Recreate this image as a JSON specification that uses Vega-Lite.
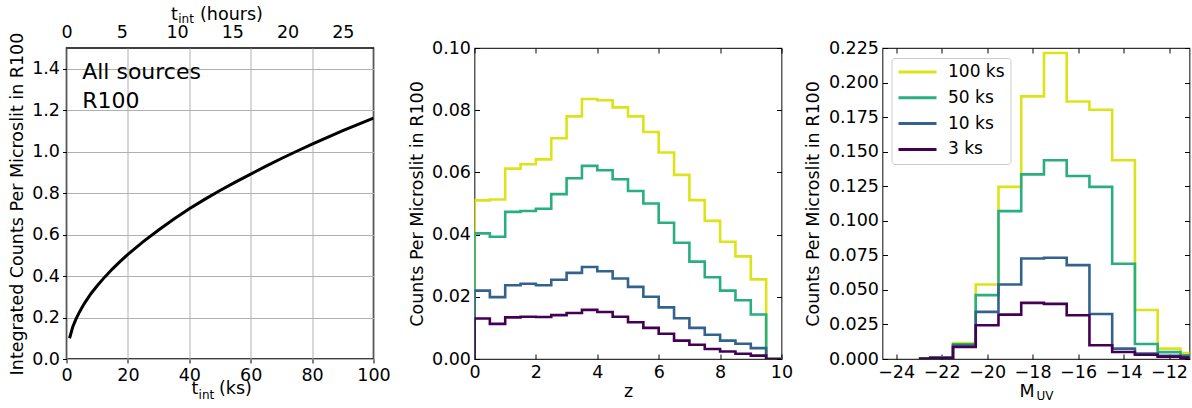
{
  "$schema": "https://vega.github.io/schema/vega-lite/v6.json",
  "padding": {"left": 7.5, "top": 4, "right": 0, "bottom": 0},
  "background": "white",
  "bounds": "flush",
  "spacing": 101,
  "config": {
    "font": "DejaVu Sans",
    "axis": {"labelFont": "DejaVu Sans", "titleFont": "DejaVu Sans", "labelFontSize": 17.5, "titleFontSize": 17.5, "labelColor": "black", "titleColor": "black", "titleFontWeight": "normal", "tickColor": "black", "tickWidth": 1, "domain": false, "grid": false, "labelFlush": false, "labelOverlap": false, "gridColor": "#b0b0b0", "gridOpacity": 1, "gridWidth": 1},
    "legend": {"labelFont": "DejaVu Sans"},
    "text": {"font": "DejaVu Sans"}
  },
  "datasets": {
    "curve": [
      {"t": 1, "c": 0.100}, {"t": 2, "c": 0.153}, {"t": 3, "c": 0.190}, {"t": 4, "c": 0.220}, {"t": 5, "c": 0.247},
      {"t": 6, "c": 0.272}, {"t": 8, "c": 0.316}, {"t": 10, "c": 0.353}, {"t": 12.5, "c": 0.396}, {"t": 15, "c": 0.435},
      {"t": 17.5, "c": 0.471}, {"t": 20, "c": 0.505}, {"t": 25, "c": 0.566}, {"t": 30, "c": 0.622}, {"t": 35, "c": 0.675},
      {"t": 40, "c": 0.725}, {"t": 45, "c": 0.770}, {"t": 50, "c": 0.813}, {"t": 55, "c": 0.853}, {"t": 60, "c": 0.892},
      {"t": 65, "c": 0.930}, {"t": 70, "c": 0.967}, {"t": 75, "c": 1.002}, {"t": 80, "c": 1.036}, {"t": 85, "c": 1.069},
      {"t": 90, "c": 1.101}, {"t": 95, "c": 1.132}, {"t": 100, "c": 1.162}
    ],
    "notes": [
      {"t": 5.1, "c": 1.352, "label": "All sources"},
      {"t": 5.1, "c": 1.212, "label": "R100"}
    ],
    "zhist": [
      {"s": "100 ks", "k": 0, "z": 0, "n": 0}, {"s": "100 ks", "k": 1, "z": 0, "n": 0.0510}, {"s": "100 ks", "k": 2, "z": 0.5, "n": 0.0513}, {"s": "100 ks", "k": 3, "z": 1, "n": 0.0612}, {"s": "100 ks", "k": 4, "z": 1.5, "n": 0.0626}, {"s": "100 ks", "k": 5, "z": 2, "n": 0.0642}, {"s": "100 ks", "k": 6, "z": 2.5, "n": 0.0710}, {"s": "100 ks", "k": 7, "z": 3, "n": 0.0780}, {"s": "100 ks", "k": 8, "z": 3.5, "n": 0.0836}, {"s": "100 ks", "k": 9, "z": 4, "n": 0.0832}, {"s": "100 ks", "k": 10, "z": 4.5, "n": 0.0809}, {"s": "100 ks", "k": 11, "z": 5, "n": 0.0780}, {"s": "100 ks", "k": 12, "z": 5.5, "n": 0.0730}, {"s": "100 ks", "k": 13, "z": 6, "n": 0.0664}, {"s": "100 ks", "k": 14, "z": 6.5, "n": 0.0592}, {"s": "100 ks", "k": 15, "z": 7, "n": 0.0511}, {"s": "100 ks", "k": 16, "z": 7.5, "n": 0.0444}, {"s": "100 ks", "k": 17, "z": 8, "n": 0.0377}, {"s": "100 ks", "k": 18, "z": 8.5, "n": 0.0330}, {"s": "100 ks", "k": 19, "z": 9, "n": 0.0256}, {"s": "100 ks", "k": 20, "z": 9.5, "n": 0}, {"s": "100 ks", "k": 21, "z": 10, "n": 0},
      {"s": "50 ks", "k": 0, "z": 0, "n": 0}, {"s": "50 ks", "k": 1, "z": 0, "n": 0.0404}, {"s": "50 ks", "k": 2, "z": 0.5, "n": 0.0393}, {"s": "50 ks", "k": 3, "z": 1, "n": 0.0473}, {"s": "50 ks", "k": 4, "z": 1.5, "n": 0.0476}, {"s": "50 ks", "k": 5, "z": 2, "n": 0.0483}, {"s": "50 ks", "k": 6, "z": 2.5, "n": 0.0530}, {"s": "50 ks", "k": 7, "z": 3, "n": 0.0581}, {"s": "50 ks", "k": 8, "z": 3.5, "n": 0.0621}, {"s": "50 ks", "k": 9, "z": 4, "n": 0.0607}, {"s": "50 ks", "k": 10, "z": 4.5, "n": 0.0578}, {"s": "50 ks", "k": 11, "z": 5, "n": 0.0540}, {"s": "50 ks", "k": 12, "z": 5.5, "n": 0.0500}, {"s": "50 ks", "k": 13, "z": 6, "n": 0.0438}, {"s": "50 ks", "k": 14, "z": 6.5, "n": 0.0374}, {"s": "50 ks", "k": 15, "z": 7, "n": 0.0313}, {"s": "50 ks", "k": 16, "z": 7.5, "n": 0.0263}, {"s": "50 ks", "k": 17, "z": 8, "n": 0.0220}, {"s": "50 ks", "k": 18, "z": 8.5, "n": 0.0189}, {"s": "50 ks", "k": 19, "z": 9, "n": 0.0143}, {"s": "50 ks", "k": 20, "z": 9.5, "n": 0}, {"s": "50 ks", "k": 21, "z": 10, "n": 0},
      {"s": "10 ks", "k": 0, "z": 0, "n": 0}, {"s": "10 ks", "k": 1, "z": 0, "n": 0.0220}, {"s": "10 ks", "k": 2, "z": 0.5, "n": 0.0199}, {"s": "10 ks", "k": 3, "z": 1, "n": 0.0237}, {"s": "10 ks", "k": 4, "z": 1.5, "n": 0.0242}, {"s": "10 ks", "k": 5, "z": 2, "n": 0.0237}, {"s": "10 ks", "k": 6, "z": 2.5, "n": 0.0255}, {"s": "10 ks", "k": 7, "z": 3, "n": 0.0277}, {"s": "10 ks", "k": 8, "z": 3.5, "n": 0.0296}, {"s": "10 ks", "k": 9, "z": 4, "n": 0.0282}, {"s": "10 ks", "k": 10, "z": 4.5, "n": 0.0259}, {"s": "10 ks", "k": 11, "z": 5, "n": 0.0232}, {"s": "10 ks", "k": 12, "z": 5.5, "n": 0.0200}, {"s": "10 ks", "k": 13, "z": 6, "n": 0.0166}, {"s": "10 ks", "k": 14, "z": 6.5, "n": 0.0131}, {"s": "10 ks", "k": 15, "z": 7, "n": 0.0100}, {"s": "10 ks", "k": 16, "z": 7.5, "n": 0.0078}, {"s": "10 ks", "k": 17, "z": 8, "n": 0.0059}, {"s": "10 ks", "k": 18, "z": 8.5, "n": 0.0049}, {"s": "10 ks", "k": 19, "z": 9, "n": 0.0035}, {"s": "10 ks", "k": 20, "z": 9.5, "n": 0}, {"s": "10 ks", "k": 21, "z": 10, "n": 0},
      {"s": "3 ks", "k": 0, "z": 0, "n": 0}, {"s": "3 ks", "k": 1, "z": 0, "n": 0.0130}, {"s": "3 ks", "k": 2, "z": 0.5, "n": 0.0113}, {"s": "3 ks", "k": 3, "z": 1, "n": 0.0134}, {"s": "3 ks", "k": 4, "z": 1.5, "n": 0.0136}, {"s": "3 ks", "k": 5, "z": 2, "n": 0.0135}, {"s": "3 ks", "k": 6, "z": 2.5, "n": 0.0141}, {"s": "3 ks", "k": 7, "z": 3, "n": 0.0148}, {"s": "3 ks", "k": 8, "z": 3.5, "n": 0.0158}, {"s": "3 ks", "k": 9, "z": 4, "n": 0.0151}, {"s": "3 ks", "k": 10, "z": 4.5, "n": 0.0136}, {"s": "3 ks", "k": 11, "z": 5, "n": 0.0118}, {"s": "3 ks", "k": 12, "z": 5.5, "n": 0.0100}, {"s": "3 ks", "k": 13, "z": 6, "n": 0.0081}, {"s": "3 ks", "k": 14, "z": 6.5, "n": 0.0059}, {"s": "3 ks", "k": 15, "z": 7, "n": 0.0046}, {"s": "3 ks", "k": 16, "z": 7.5, "n": 0.0032}, {"s": "3 ks", "k": 17, "z": 8, "n": 0.0024}, {"s": "3 ks", "k": 18, "z": 8.5, "n": 0.0017}, {"s": "3 ks", "k": 19, "z": 9, "n": 0.0011}, {"s": "3 ks", "k": 20, "z": 9.5, "n": 0}, {"s": "3 ks", "k": 21, "z": 10, "n": 0}
    ],
    "muv": [
      {"s": "100 ks", "m": -23, "n": 0.0004}, {"s": "100 ks", "m": -22, "n": 0.0012}, {"s": "100 ks", "m": -21, "n": 0.0116}, {"s": "100 ks", "m": -20, "n": 0.0539}, {"s": "100 ks", "m": -19, "n": 0.1245}, {"s": "100 ks", "m": -18, "n": 0.1900}, {"s": "100 ks", "m": -17, "n": 0.2214}, {"s": "100 ks", "m": -16, "n": 0.1863}, {"s": "100 ks", "m": -15, "n": 0.1803}, {"s": "100 ks", "m": -14, "n": 0.1438}, {"s": "100 ks", "m": -13, "n": 0.0355}, {"s": "100 ks", "m": -12, "n": 0.0075}, {"s": "100 ks", "m": -11, "n": 0.0043}, {"s": "100 ks", "m": -10, "n": 0.0020},
      {"s": "50 ks", "m": -23, "n": 0.0003}, {"s": "50 ks", "m": -22, "n": 0.0010}, {"s": "50 ks", "m": -21, "n": 0.0107}, {"s": "50 ks", "m": -20, "n": 0.0462}, {"s": "50 ks", "m": -19, "n": 0.1070}, {"s": "50 ks", "m": -18, "n": 0.1336}, {"s": "50 ks", "m": -17, "n": 0.1438}, {"s": "50 ks", "m": -16, "n": 0.1324}, {"s": "50 ks", "m": -15, "n": 0.1245}, {"s": "50 ks", "m": -14, "n": 0.0689}, {"s": "50 ks", "m": -13, "n": 0.0109}, {"s": "50 ks", "m": -12, "n": 0.0050}, {"s": "50 ks", "m": -11, "n": 0.0027}, {"s": "50 ks", "m": -10, "n": 0.0015},
      {"s": "10 ks", "m": -23, "n": 0.0003}, {"s": "10 ks", "m": -22, "n": 0.0009}, {"s": "10 ks", "m": -21, "n": 0.0097}, {"s": "10 ks", "m": -20, "n": 0.0341}, {"s": "10 ks", "m": -19, "n": 0.0539}, {"s": "10 ks", "m": -18, "n": 0.0727}, {"s": "10 ks", "m": -17, "n": 0.0732}, {"s": "10 ks", "m": -16, "n": 0.0679}, {"s": "10 ks", "m": -15, "n": 0.0326}, {"s": "10 ks", "m": -14, "n": 0.0075}, {"s": "10 ks", "m": -13, "n": 0.0039}, {"s": "10 ks", "m": -12, "n": 0.0024}, {"s": "10 ks", "m": -11, "n": 0.0017}, {"s": "10 ks", "m": -10, "n": 0.0010},
      {"s": "3 ks", "m": -23, "n": 0.0002}, {"s": "3 ks", "m": -22, "n": 0.0007}, {"s": "3 ks", "m": -21, "n": 0.0087}, {"s": "3 ks", "m": -20, "n": 0.0244}, {"s": "3 ks", "m": -19, "n": 0.0321}, {"s": "3 ks", "m": -18, "n": 0.0406}, {"s": "3 ks", "m": -17, "n": 0.0399}, {"s": "3 ks", "m": -16, "n": 0.0317}, {"s": "3 ks", "m": -15, "n": 0.0099}, {"s": "3 ks", "m": -14, "n": 0.0051}, {"s": "3 ks", "m": -13, "n": 0.0031}, {"s": "3 ks", "m": -12, "n": 0.0017}, {"s": "3 ks", "m": -11, "n": 0.0010}, {"s": "3 ks", "m": -10, "n": 0.0006}
    ]
  },
  "resolve": {"scale": {"color": "independent"}, "legend": {"color": "independent"}},
  "hconcat": [
    {
      "width": 307, "height": 311,
      "view": {"stroke": "black", "strokeWidth": 1.5},
      "layer": [
        {
          "data": {"name": "curve"},
          "mark": {"type": "line", "color": "black", "strokeWidth": 3, "clip": true},
          "encoding": {
            "x": {"field": "t", "type": "quantitative", "scale": {"domain": [0, 100], "nice": false, "zero": false},
                  "axis": {"orient": "bottom", "values": [0, 20, 40, 60, 80, 100], "grid": true, "tickSize": 4, "labelPadding": 3, "title": "t", "titleX": 124.5, "titleY": 34.5, "titleAlign": "left", "titleBaseline": "alphabetic"}},
            "y": {"field": "c", "type": "quantitative", "scale": {"domain": [0, 1.5], "nice": false},
                  "axis": {"values": [0, 0.2, 0.4, 0.6, 0.8, 1.0, 1.2, 1.4], "format": ".1f", "grid": true, "tickSize": 4, "labelPadding": 3, "title": "Integrated Counts Per Microslit in R100", "titlePadding": 5}}
          }
        },
        {
          "data": {"name": "curve"},
          "mark": {"type": "line", "opacity": 0},
          "encoding": {
            "x": {"field": "t", "type": "quantitative",
                  "axis": {"orient": "top", "values": [0, 18, 36, 54, 72, 90], "labelExpr": "round(datum.value / 3.6)", "ticks": false, "grid": false, "labelBaseline": "alphabetic", "labelPadding": 11, "title": "t", "titleX": 104, "titleY": -29, "titleAlign": "left", "titleBaseline": "alphabetic"}},
            "y": {"field": "c", "type": "quantitative", "axis": null}
          }
        },
        {
          "data": {"name": "curve"},
          "mark": {"type": "line", "opacity": 0},
          "encoding": {
            "x": {"field": "t", "type": "quantitative",
                  "axis": {"orient": "top", "labels": false, "ticks": false, "grid": false, "title": "int", "titleFontSize": 12, "titleX": 111.2, "titleY": -25.5, "titleAlign": "left", "titleBaseline": "alphabetic"}},
            "y": {"field": "c", "type": "quantitative", "axis": null}
          }
        },
        {
          "data": {"name": "curve"},
          "mark": {"type": "line", "opacity": 0},
          "encoding": {
            "x": {"field": "t", "type": "quantitative",
                  "axis": {"orient": "top", "labels": false, "ticks": false, "grid": false, "title": "(hours)", "titleX": 133, "titleY": -29, "titleAlign": "left", "titleBaseline": "alphabetic"}},
            "y": {"field": "c", "type": "quantitative", "axis": null}
          }
        },
        {
          "data": {"name": "curve"},
          "mark": {"type": "line", "opacity": 0},
          "encoding": {
            "x": {"field": "t", "type": "quantitative",
                  "axis": {"orient": "bottom", "labels": false, "ticks": false, "grid": false, "title": "int", "titleFontSize": 12, "titleX": 131.6, "titleY": 39.5, "titleAlign": "left", "titleBaseline": "alphabetic"}},
            "y": {"field": "c", "type": "quantitative", "axis": null}
          }
        },
        {
          "data": {"name": "curve"},
          "mark": {"type": "line", "opacity": 0},
          "encoding": {
            "x": {"field": "t", "type": "quantitative",
                  "axis": {"orient": "bottom", "labels": false, "ticks": false, "grid": false, "title": "(ks)", "titleX": 152, "titleY": 34.5, "titleAlign": "left", "titleBaseline": "alphabetic"}},
            "y": {"field": "c", "type": "quantitative", "axis": null}
          }
        },
        {
          "data": {"name": "notes"},
          "mark": {"type": "text", "fontSize": 22, "align": "left", "baseline": "alphabetic", "color": "black"},
          "encoding": {
            "x": {"field": "t", "type": "quantitative", "axis": null},
            "y": {"field": "c", "type": "quantitative", "axis": null},
            "text": {"field": "label"}
          }
        }
      ],
      "resolve": {"axis": {"x": "independent", "y": "independent"}}
    },
    {
      "width": 307, "height": 311,
      "view": {"stroke": "#333333", "strokeWidth": 1.2},
      "data": {"name": "zhist"},
      "layer": [
        {
          "mark": {"type": "line", "interpolate": "step-after", "strokeWidth": 2.6, "strokeJoin": "miter", "clip": true},
          "encoding": {
            "x": {"field": "z", "type": "quantitative", "scale": {"domain": [0, 10], "nice": false, "zero": false},
                  "axis": {"orient": "bottom", "values": [0, 2, 4, 6, 8, 10], "tickSize": -5, "labelPadding": 9, "title": "z", "titleY": 37, "titleBaseline": "alphabetic"}},
            "y": {"field": "n", "type": "quantitative", "scale": {"domain": [0, 0.1], "nice": false},
                  "axis": {"values": [0, 0.02, 0.04, 0.06, 0.08, 0.1], "format": ".2f", "tickSize": -5, "labelPadding": 9, "title": "Counts Per Microslit in R100", "titlePadding": 5}},
            "order": {"field": "k", "type": "quantitative"},
            "color": {"field": "s", "type": "nominal", "scale": {"domain": ["100 ks", "50 ks", "10 ks", "3 ks"], "range": ["#dde318", "#29af7f", "#33638d", "#440154"]}, "legend": null}
          }
        },
        {
          "mark": {"type": "line", "opacity": 0},
          "encoding": {
            "x": {"field": "z", "type": "quantitative", "axis": {"orient": "top", "values": [0, 2, 4, 6, 8, 10], "labels": false, "tickSize": -5, "title": null}},
            "y": {"field": "n", "type": "quantitative", "axis": {"orient": "right", "values": [0, 0.02, 0.04, 0.06, 0.08, 0.1], "labels": false, "tickSize": -5, "title": null}}
          }
        }
      ],
      "resolve": {"axis": {"x": "independent", "y": "independent"}}
    },
    {
      "width": 307, "height": 311,
      "view": {"stroke": "#333333", "strokeWidth": 1.2},
      "data": {"name": "muv"},
      "layer": [
        {
          "mark": {"type": "line", "interpolate": "step", "strokeWidth": 2.6, "strokeJoin": "miter", "clip": true},
          "encoding": {
            "x": {"field": "m", "type": "quantitative", "scale": {"domain": [-24.6, -11.1], "nice": false, "zero": false},
                  "axis": {"orient": "bottom", "values": [-24, -22, -20, -18, -16, -14, -12], "tickSize": -5, "labelPadding": 9, "title": "M", "titleX": 136.6, "titleY": 37, "titleAlign": "left", "titleBaseline": "alphabetic"}},
            "y": {"field": "n", "type": "quantitative", "scale": {"domain": [0, 0.225], "nice": false},
                  "axis": {"values": [0, 0.025, 0.05, 0.075, 0.1, 0.125, 0.15, 0.175, 0.2, 0.225], "format": ".3f", "tickSize": -5, "labelPadding": 9, "title": "Counts Per Microslit in R100", "titlePadding": 6}},
            "color": {"field": "s", "type": "nominal", "scale": {"domain": ["100 ks", "50 ks", "10 ks", "3 ks"], "range": ["#dde318", "#29af7f", "#33638d", "#440154"]},
                      "legend": {"orient": "none", "legendX": 9, "legendY": 10, "title": null, "symbolType": "stroke", "symbolSize": 1444, "symbolStrokeWidth": 3, "clipHeight": 17, "labelFontSize": 17, "labelColor": "black", "labelOffset": 10, "rowPadding": 7.8, "padding": 5.5, "strokeColor": "#cccccc", "fillColor": "white", "cornerRadius": 3}}
          }
        },
        {
          "mark": {"type": "line", "opacity": 0},
          "encoding": {
            "x": {"field": "m", "type": "quantitative", "axis": {"orient": "top", "values": [-24, -22, -20, -18, -16, -14, -12], "labels": false, "tickSize": -5, "title": null}},
            "y": {"field": "n", "type": "quantitative", "axis": {"orient": "right", "values": [0, 0.025, 0.05, 0.075, 0.1, 0.125, 0.15, 0.175, 0.2, 0.225], "labels": false, "tickSize": -5, "title": null}}
          }
        },
        {
          "mark": {"type": "line", "opacity": 0},
          "encoding": {
            "x": {"field": "m", "type": "quantitative", "axis": {"orient": "bottom", "labels": false, "ticks": false, "grid": false, "title": "UV", "titleFontSize": 12, "titleX": 153.5, "titleY": 40.3, "titleAlign": "left", "titleBaseline": "alphabetic"}},
            "y": {"field": "n", "type": "quantitative", "axis": null}
          }
        }
      ],
      "resolve": {"axis": {"x": "independent", "y": "independent"}}
    }
  ]
}
